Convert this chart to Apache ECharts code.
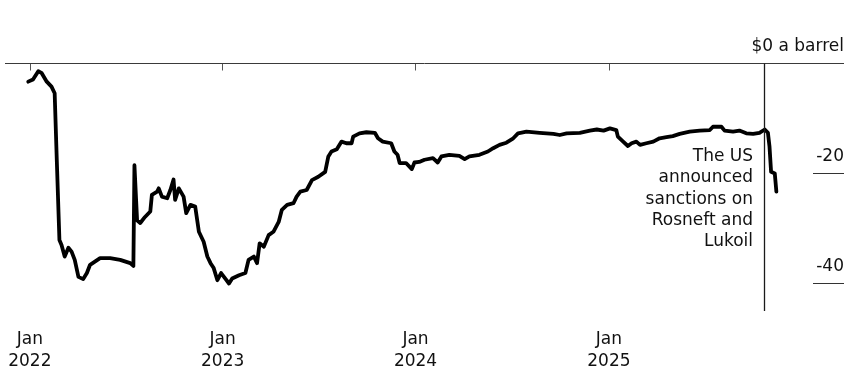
<!DOCTYPE html>
<html>
<head>
<meta charset="utf-8">
<script src="https://cdn.jsdelivr.net/npm/echarts@6/dist/echarts.min.js"></script>
<style>
html,body{margin:0;padding:0;background:#fff;}
#chart{width:867px;height:392px;}
</style>
</head>
<body>
<div id="chart"></div>
<script>
// Urals discount to Brent, $ a barrel
const dates = [
  '2021-12-29','2022-01-07','2022-01-17','2022-01-23','2022-02-02','2022-02-11','2022-02-17','2022-02-21','2022-02-26',
  '2022-03-02','2022-03-08','2022-03-15','2022-03-21','2022-03-27','2022-04-03','2022-04-12','2022-04-19','2022-04-25',
  '2022-05-14','2022-06-02','2022-06-21','2022-07-10','2022-07-16','2022-07-18','2022-07-23','2022-07-29','2022-08-07',
  '2022-08-17','2022-08-20','2022-08-30','2022-09-02','2022-09-08','2022-09-18','2022-09-24','2022-09-30','2022-10-03',
  '2022-10-10','2022-10-19','2022-10-24','2022-11-01','2022-11-10','2022-11-17','2022-11-26','2022-12-03','2022-12-09',
  '2022-12-15','2022-12-22','2022-12-29',
  '2023-01-06','2023-01-13','2023-01-19','2023-02-01','2023-02-13','2023-02-19','2023-03-01','2023-03-07','2023-03-12',
  '2023-03-20','2023-03-29','2023-04-07','2023-04-17','2023-04-23','2023-05-03','2023-05-15','2023-05-21','2023-05-28',
  '2023-06-09','2023-06-19','2023-07-01','2023-07-14','2023-07-20','2023-07-26','2023-08-05','2023-08-14','2023-08-23',
  '2023-09-02','2023-09-05','2023-09-17','2023-09-30','2023-10-16','2023-10-22','2023-10-31','2023-11-16','2023-11-22',
  '2023-11-28','2023-12-02','2023-12-14','2023-12-25','2023-12-30',
  '2024-01-08','2024-01-18','2024-02-03','2024-02-12','2024-02-19','2024-03-05','2024-03-24','2024-04-03','2024-04-12',
  '2024-05-01','2024-05-17','2024-05-27','2024-06-08','2024-06-21','2024-07-04','2024-07-13','2024-07-29','2024-08-23',
  '2024-09-18','2024-09-30','2024-10-13','2024-11-07','2024-11-26','2024-12-09','2024-12-22',
  '2025-01-03','2025-01-15','2025-01-18','2025-01-28','2025-02-06','2025-02-13','2025-02-22','2025-03-01','2025-03-13',
  '2025-03-26','2025-04-07','2025-04-20','2025-05-02','2025-05-15','2025-06-03','2025-06-22','2025-07-11','2025-07-17',
  '2025-08-02','2025-08-08','2025-08-24','2025-09-05','2025-09-18','2025-10-01','2025-10-13','2025-10-23','2025-10-29',
  '2025-11-01','2025-11-04','2025-11-11','2025-11-14'
];
const discount = [
  -3.3,-2.9,-1.4,-1.7,-3.3,-4.2,-5.4,-17.5,-32.1,
  -33.0,-35.1,-33.5,-34.2,-35.7,-38.8,-39.2,-38.1,-36.6,
  -35.4,-35.4,-35.7,-36.3,-36.8,-18.5,-28.5,-29.0,-27.9,
  -26.9,-23.9,-23.3,-22.7,-24.2,-24.5,-23.0,-21.1,-24.8,
  -22.7,-24.2,-27.2,-25.7,-26.0,-30.6,-32.4,-35.1,-36.3,
  -37.2,-39.4,-38.1,
  -39.1,-40.0,-39.1,-38.5,-38.1,-35.7,-35.1,-36.3,-32.7,
  -33.3,-31.2,-30.6,-28.8,-26.6,-25.7,-25.4,-24.2,-23.3,
  -23.0,-21.2,-20.6,-19.7,-16.9,-16.0,-15.6,-14.2,-14.5,
  -14.5,-13.3,-12.7,-12.5,-12.6,-13.6,-14.2,-14.5,-16.0,
  -16.6,-18.1,-18.1,-19.2,-18.0,
  -17.9,-17.5,-17.2,-18.0,-16.9,-16.6,-16.8,-17.4,-16.9,
  -16.6,-16.0,-15.4,-14.8,-14.4,-13.6,-12.7,-12.4,-12.6,
  -12.8,-13.0,-12.7,-12.6,-12.2,-12.0,-12.2,
  -11.8,-12.1,-13.3,-14.2,-15.0,-14.5,-14.2,-14.8,-14.5,
  -14.2,-13.6,-13.4,-13.2,-12.8,-12.4,-12.2,-12.1,-11.5,
  -11.5,-12.2,-12.4,-12.2,-12.7,-12.8,-12.6,-12.0,-12.6,
  -15.1,-19.7,-20.0,-23.3
];
const xTickDates = ['2022-01-01','2023-01-01','2024-01-01','2025-01-01'];
const yTicks = [0, -20, -40];
const sanctionDate = '2025-10-22';
const annotation = 'The US\nannounced\nsanctions on\nRosneft and\nLukoil';
const xMin = '2021-11-15', xMax = '2026-03-22';
const yMin = -45, yMax = 0;

const months = ['Jan','Feb','Mar','Apr','May','Jun','Jul','Aug','Sep','Oct','Nov','Dec'];
const FONT = 'DejaVu Sans';
const ts = d => echarts.time.parse(d).getTime();
const chart = echarts.init(document.getElementById('chart'), null, {renderer:'canvas'});
const tickVals = xTickDates.map(ts);

chart.setOption({
  animation: false,
  backgroundColor: '#ffffff',
  grid: {left: 5, right: 23, top: 63.5, bottom: 81, containLabel: false},
  xAxis: {
    type: 'value',
    min: ts(xMin), max: ts(xMax),
    axisLine: {show: false},
    splitLine: {show: false},
    axisTick: {show: true, customValues: tickVals, length: 7, lineStyle: {color: '#555', width: 1}},
    axisLabel: {
      customValues: tickVals,
      margin: 18,
      color: '#111',
      fontFamily: FONT, fontSize: 17, lineHeight: 22,
      formatter: v => { const d = new Date(v); return months[d.getMonth()] + '\n' + d.getFullYear(); }
    }
  },
  yAxis: {
    type: 'value',
    position: 'right',
    min: yMin, max: yMax,
    axisLine: {show: false},
    splitLine: {show: false},
    axisTick: {show: true, inside: true, customValues: yTicks, length: 31, lineStyle: {color: '#333', width: 1}},
    axisLabel: {
      inside: true,
      customValues: yTicks,
      align: 'right', verticalAlign: 'bottom',
      margin: 0,
      padding: [0, 0, 8, 0],
      color: '#111',
      fontFamily: FONT, fontSize: 17,
      formatter: v => v === 0 ? '$0 a barrel' : String(v)
    }
  },
  series: [{
    type: 'line',
    data: dates.map((d, i) => [ts(d), discount[i]]),
    showSymbol: false,
    symbol: 'none',
    lineStyle: {color: '#000', width: 3.8, join: 'round', cap: 'round'},
    silent: true,
    z: 3,
    markLine: {
      silent: true,
      symbol: 'none',
      label: {show: false},
      data: [
        {yAxis: 0, lineStyle: {color: '#3a3a3a', width: 1, type: 'solid'}},
        {xAxis: ts(sanctionDate), lineStyle: {color: '#1a1a1a', width: 1.3, type: 'solid'}}
      ]
    }
  }],
  graphic: [{
    type: 'text',
    x: 753, y: 146,
    style: {
      text: annotation,
      align: 'right', verticalAlign: 'top',
      font: '17px "DejaVu Sans"',
      lineHeight: 21.3,
      fill: '#111'
    }
  }]
});
</script>
</body>
</html>
